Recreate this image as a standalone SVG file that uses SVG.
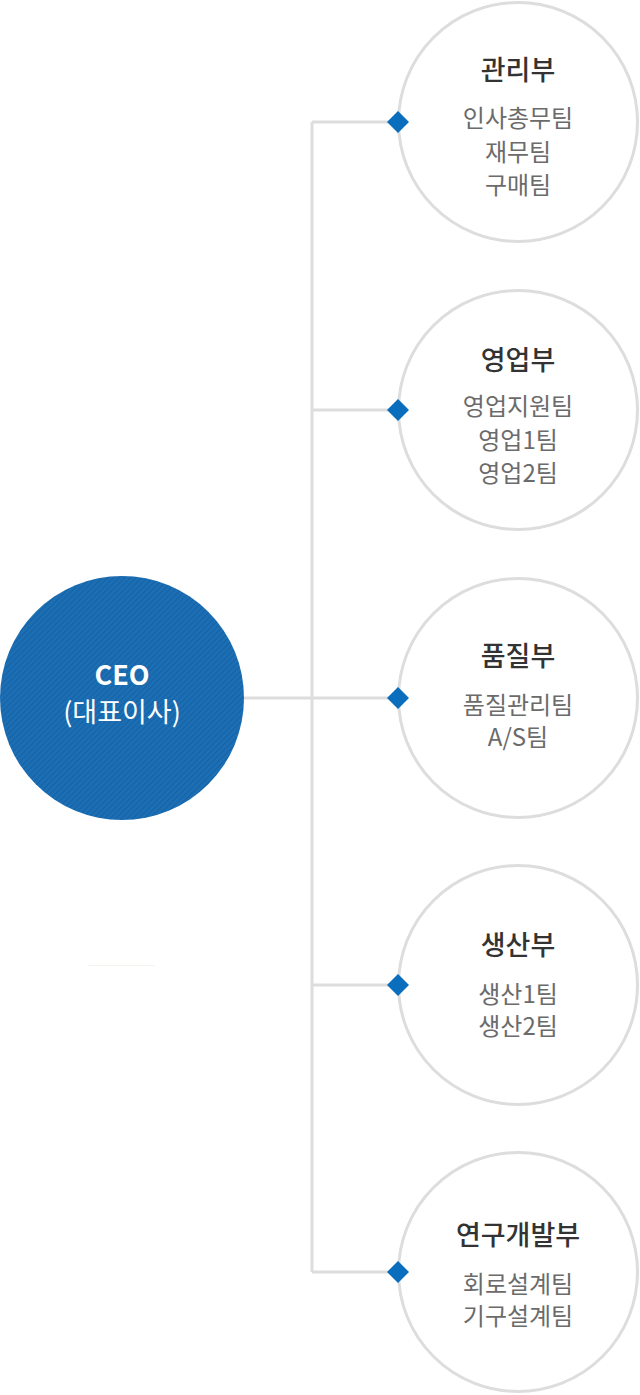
<svg xmlns="http://www.w3.org/2000/svg" width="640" height="1395" viewBox="0 0 640 1395">
<defs>
<pattern id="hatch" patternUnits="userSpaceOnUse" width="4" height="4" patternTransform="rotate(45)">
<rect width="4" height="4" fill="#1d6fb4"/>
<rect width="1.3" height="4" fill="#1563a8"/>
</pattern>
</defs>
<style>
.dept{fill:#fff;stroke:#dddddd;stroke-width:3}
.ln{stroke:#dddddd;stroke-width:3;fill:none}
.dia{fill:#0a6ebd}
.t{font-family:"Noto Sans CJK KR","Noto Sans",sans-serif;text-anchor:middle}
.title{font-size:27px;font-weight:500;fill:#333333}
.item{font-size:24px;fill:#6b6b6b}
.ceo{fill:#ffffff}
</style>
<rect width="640" height="1395" fill="#ffffff"/>
<line x1="88" y1="965.5" x2="155" y2="965.5" stroke="#f4f4ee" stroke-width="1"/>
<g id="connectors">
<line class="ln" x1="244" y1="698" x2="398" y2="698"/>
<line class="ln" x1="312" y1="122" x2="312" y2="1272"/>
<line class="ln" x1="312" y1="122" x2="398" y2="122"/>
<line class="ln" x1="312" y1="410" x2="398" y2="410"/>
<line class="ln" x1="312" y1="985" x2="398" y2="985"/>
<line class="ln" x1="312" y1="1272" x2="398" y2="1272"/>
</g>
<g id="ceo">
<circle cx="122" cy="698" r="122" fill="url(#hatch)"/>
<text class="t ceo" x="122" y="685" font-size="27" font-weight="700">CEO</text>
<text class="t ceo" x="122" y="722" font-size="27">(대표이사)</text>
</g>
<g id="dept1">
<circle class="dept" cx="518" cy="122" r="119.5"/>
<path class="dia" d="M398 111 L409 122 L398 133 L387 122 Z"/>
<text class="t title" x="518" y="80">관리부</text>
<text class="t item" x="518" y="127">인사총무팀</text>
<text class="t item" x="518" y="160.5">재무팀</text>
<text class="t item" x="518" y="194">구매팀</text>
</g>
<g id="dept2">
<circle class="dept" cx="518" cy="410" r="119.5"/>
<path class="dia" d="M398 399 L409 410 L398 421 L387 410 Z"/>
<text class="t title" x="518" y="369.5">영업부</text>
<text class="t item" x="518" y="414.5">영업지원팀</text>
<text class="t item" x="518" y="448.5">영업1팀</text>
<text class="t item" x="518" y="482">영업2팀</text>
</g>
<g id="dept3">
<circle class="dept" cx="518" cy="698" r="119.5"/>
<path class="dia" d="M398 687 L409 698 L398 709 L387 698 Z"/>
<text class="t title" x="518" y="666">품질부</text>
<text class="t item" x="518" y="714">품질관리팀</text>
<text class="t item" x="518" y="746">A/S팀</text>
</g>
<g id="dept4">
<circle class="dept" cx="518" cy="985" r="119.5"/>
<path class="dia" d="M398 974 L409 985 L398 996 L387 985 Z"/>
<text class="t title" x="518" y="954.5">생산부</text>
<text class="t item" x="518" y="1002.5">생산1팀</text>
<text class="t item" x="518" y="1035">생산2팀</text>
</g>
<g id="dept5">
<circle class="dept" cx="518" cy="1272" r="119.5"/>
<path class="dia" d="M398 1261 L409 1272 L398 1283 L387 1272 Z"/>
<text class="t title" x="518" y="1244.5">연구개발부</text>
<text class="t item" x="518" y="1292.5">회로설계팀</text>
<text class="t item" x="518" y="1325">기구설계팀</text>
</g>
</svg>
